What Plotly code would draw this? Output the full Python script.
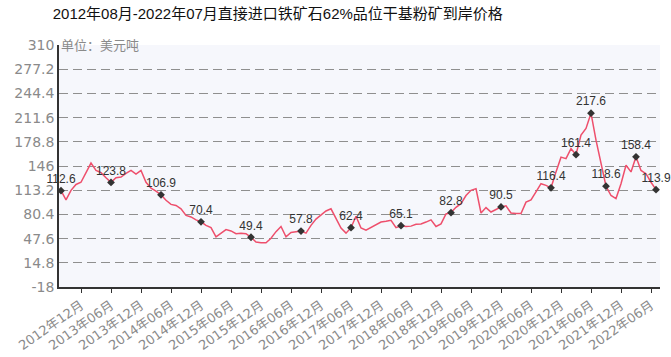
import plotly.graph_objects as go

# Monthly categories 2012-08 .. 2022-07
months = []
for k in range(120):
    yy = 2012 + (7 + k) // 12
    mm = (7 + k) % 12 + 1
    months.append(f"{yy}年{mm:02d}月")

prices = [
    112.6, 100, 113, 121, 124, 138, 150, 140, 137, 130,
    123.8, 130, 131, 136, 140, 135, 140, 124, 116, 112,
    106.9, 99.5, 94, 92.5, 88, 79, 77, 73, 70.4, 65.6,
    62.5, 50, 55, 59.8, 58, 54.3, 55, 54.3, 49.4, 43,
    42, 42, 48, 57, 64, 50, 56, 57, 57.8, 55,
    65.6, 74, 79, 85, 88, 76, 62, 55, 62.4, 77.8,
    62, 59, 63, 66, 70, 71, 72.4, 62.5, 65.1, 64,
    64.5, 67, 67.5, 70, 73, 64, 67.5, 81, 82.8, 90,
    95, 106, 113, 115.3, 82.3, 89.6, 83.6, 87, 90.5, 92,
    82.3, 81.5, 81.5, 97, 100, 111, 122, 119.8, 116.4, 138,
    158, 156, 169.5, 161.4, 188, 197, 217.6, 181, 149, 118.6,
    106, 101.8, 122, 147, 138, 158.4, 140, 135.6, 124, 113.9,
]

label_months = ["2012年08月", "2013年06月", "2014年04月", "2014年12月", "2015年10月",
                "2016年08月", "2017年06月", "2018年04月", "2019年02月", "2019年12月",
                "2020年10月", "2021年03月", "2021年06月", "2021年09月", "2022年03月",
                "2022年07月"]
label_values = [112.6, 123.8, 106.9, 70.4, 49.4, 57.8, 62.4, 65.1, 82.8, 90.5,
                116.4, 161.4, 217.6, 118.6, 158.4, 113.9]

x_ticks = ["2012年12月", "2013年06月", "2013年12月", "2014年06月", "2014年12月",
           "2015年06月", "2015年12月", "2016年06月", "2016年12月", "2017年06月",
           "2017年12月", "2018年06月", "2018年12月", "2019年06月", "2019年12月",
           "2020年06月", "2020年12月", "2021年06月", "2021年12月", "2022年06月"]

y_ticks = [-18, 14.8, 47.6, 80.4, 113.2, 146, 178.8, 211.6, 244.4, 277.2, 310]
y_tick_text = ["-18", "14.8", "47.6", "80.4", "113.2", "146", "178.8", "211.6", "244.4", "277.2", "310"]

FONT = "Liberation Sans, Arial, Noto Sans CJK SC, sans-serif"
TICKFONT = "DejaVu Sans, Noto Sans CJK SC, sans-serif"

fig = go.Figure()
fig.add_trace(go.Scatter(
    x=months, y=prices, mode="lines",
    line=dict(color="#ee4f6c", width=1.5),
    hoverinfo="x+y", showlegend=False,
))
fig.add_trace(go.Scatter(
    x=label_months, y=label_values, mode="markers+text",
    marker=dict(symbol="diamond", size=6, color="#333333"),
    text=[str(v) for v in label_values],
    textposition="top center",
    textfont=dict(size=12, color="#333333", family=FONT),
    showlegend=False, cliponaxis=False,
))

fig.update_layout(
    width=671, height=357,
    margin=dict(l=59, r=11, t=45, b=70, autoexpand=False),
    paper_bgcolor="white",
    plot_bgcolor="#f6f7fc",
    font=dict(family=FONT),
    title=dict(
        text="2012年08月-2022年07月直接进口铁矿石62%品位干基粉矿到岸价格",
        font=dict(size=15, color="#111111", family=FONT),
        x=0.414, xref="container", xanchor="center",
        y=0.962, yref="container", yanchor="middle",
    ),
    xaxis=dict(
        type="category",
        categoryorder="array", categoryarray=months,
        range=[-0.4, 119.8],
        tickmode="array", tickvals=x_ticks, ticktext=x_ticks,
        tickangle=-35,
        tickfont=dict(size=13, color="#8a8a8a", family=TICKFONT),
        ticks="outside", ticklen=4, tickcolor="#333333",
        showgrid=False, zeroline=False, automargin=False,
        showline=True, linecolor="#333333", linewidth=1.5,
    ),
    yaxis=dict(
        range=[-18, 310],
        tickmode="array", tickvals=y_ticks, ticktext=y_tick_text,
        tickfont=dict(size=14, color="#8a8a8a", family=TICKFONT),
        showgrid=True, gridcolor="#8f8f8f", gridwidth=1, griddash="9px,5px",
        zeroline=False, automargin=False,
        showline=True, linecolor="#333333", linewidth=1.5,
        ticks="", ticklen=0,
    ),
    annotations=[dict(
        text="单位：美元吨", x=0, xref="paper", xanchor="left",
        y=310, yref="y", yanchor="middle", showarrow=False,
        font=dict(size=13, color="#8a8a8a", family=FONT),
    )],
)

fig.write_html("out.html", config={"displayModeBar": False},
               post_script="document.body.style.margin='0';")
